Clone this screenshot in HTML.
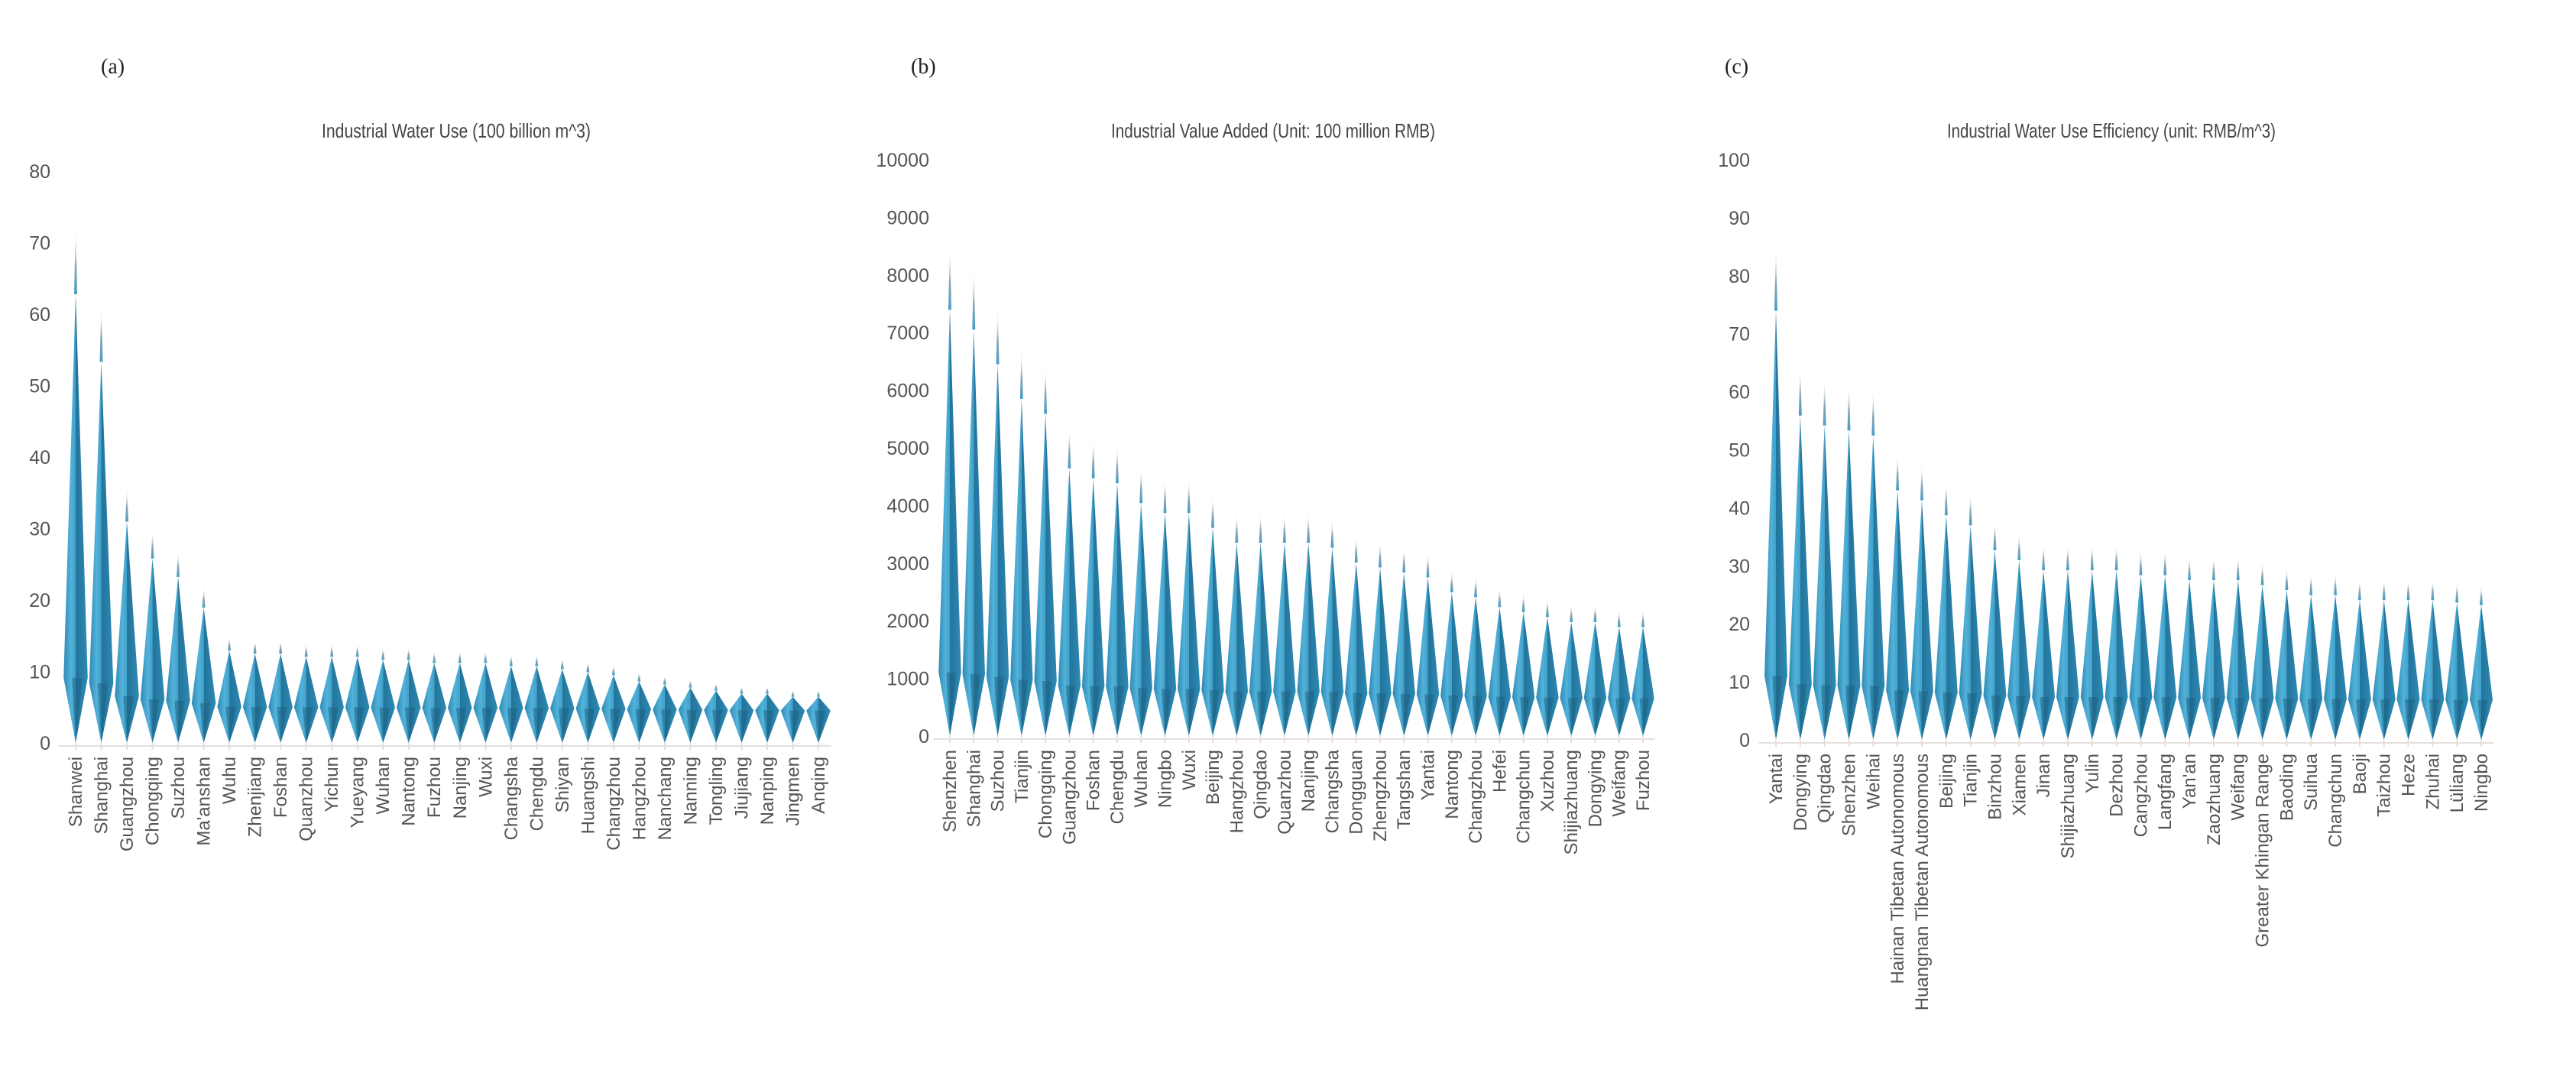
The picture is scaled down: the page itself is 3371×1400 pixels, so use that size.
<!DOCTYPE html>
<html><head><meta charset="utf-8"><style>
html,body{margin:0;padding:0;background:#fff;}
svg{display:block;font-family:"Liberation Sans",Arial,sans-serif;}
</style></head><body>
<svg id="chart" width="3371" height="1400" viewBox="0 0 3371 1400" xmlns="http://www.w3.org/2000/svg">
<defs>
<linearGradient id="gL" x1="0" y1="0" x2="1" y2="0"><stop offset="0" stop-color="#2f89b3"/><stop offset="0.6" stop-color="#52b2d9"/><stop offset="1" stop-color="#3ea0ca"/></linearGradient>
<linearGradient id="gR" x1="0" y1="0" x2="1" y2="0"><stop offset="0" stop-color="#22739a"/><stop offset="1" stop-color="#2e8ab4"/></linearGradient>
<linearGradient id="gN" x1="0" y1="1" x2="0" y2="0"><stop offset="0" stop-color="#4a9fc6"/><stop offset="0.4" stop-color="#8aa6b4"/><stop offset="1" stop-color="#ffffff" stop-opacity="0"/></linearGradient>
</defs>
</svg>
<script>
const catsA = ["Shanwei","Shanghai","Guangzhou","Chongqing","Suzhou","Ma'anshan","Wuhu","Zhenjiang","Foshan","Quanzhou","Yichun","Yueyang","Wuhan","Nantong","Fuzhou","Nanjing","Wuxi","Changsha","Chengdu","Shiyan","Huangshi","Changzhou","Hangzhou","Nanchang","Nanning","Tongling","Jiujiang","Nanping","Jingmen","Anqing"];
const valsA = [73,62,36,30,27,22,15,14.5,14.5,14,14,14,13.5,13.5,13,13,13,12.5,12.5,12,11.5,11,10,9.5,9,8.5,8,8,7.5,7.5];
const ticksA = [0,10,20,30,40,50,60,70,80];
const catsB = ["Shenzhen","Shanghai","Suzhou","Tianjin","Chongqing","Guangzhou","Foshan","Chengdu","Wuhan","Ningbo","Wuxi","Beijing","Hangzhou","Qingdao","Quanzhou","Nanjing","Changsha","Dongguan","Zhengzhou","Tangshan","Yantai","Nantong","Changzhou","Hefei","Changchun","Xuzhou","Shijiazhuang","Dongying","Weifang","Fuzhou"];
const valsB = [8600,8200,7500,6800,6500,5400,5200,5100,4700,4500,4500,4200,3900,3900,3900,3900,3800,3500,3400,3300,3200,2900,2800,2600,2500,2400,2300,2300,2200,2200];
const ticksB = [0,1000,2000,3000,4000,5000,6000,7000,8000,9000,10000];
const catsC = ["Yantai","Dongying","Qingdao","Shenzhen","Weihai","Hainan Tibetan Autonomous","Huangnan Tibetan Autonomous","Beijing","Tianjin","Binzhou","Xiamen","Jinan","Shijiazhuang","Yulin","Dezhou","Cangzhou","Langfang","Yan'an","Zaozhuang","Weifang","Greater Khingan Range","Baoding","Suihua","Changchun","Baoji","Taizhou","Heze","Zhuhai","Lüliang","Ningbo"];
const valsC = [86,65,63,62,61,50,48,45,43,38,36,34,34,34,34,33,33,32,32,32,31,30,29,29,28,28,28,28,27.5,27];
const ticksC = [0,10,20,30,40,50,60,70,80,90,100];

const svg = document.getElementById('chart');
const NS = 'http://www.w3.org/2000/svg';
function mk(tag, attrs, parent){const e=document.createElementNS(NS,tag);for(const k in attrs)e.setAttribute(k,attrs[k]);parent.appendChild(e);return e;}

function panel(o){
  const g = mk('g',{},svg);
  
  
  const max = o.ticks[o.ticks.length-1];
  const y = v => o.y0 - (v/max)*(o.y0-o.yTop);
  const n = o.cats.length;
  const step = (o.xLast-o.xFirst)/(n-1);
  const x = i => o.xFirst + i*step;
  const lab = mk('text',{x:o.labX,y:96,'font-size':28,fill:'#222','font-family':'Liberation Serif, serif'},g);
  lab.textContent = o.letter;
  
  
  const t = mk('text',{x:o.titleX,y:180,'font-size':26,fill:'#444','text-anchor':'middle',textLength:o.titleW,lengthAdjust:'spacingAndGlyphs'},g);
  t.textContent = o.title;
  
  
  o.ticks.forEach(tv=>{
    const tt = mk('text',{x:o.tickX,y:y(tv)+9,'font-size':25,fill:'#555','text-anchor':'end'},g);
    tt.textContent = tv;
    
    
  });
  const ax = mk('line',{x1:o.xFirst-step/2-6,x2:o.xLast+step/2,y1:o.y0+4,y2:o.y0+4,stroke:'#e6dede','stroke-width':2},g);
  
  
  const hw = step*0.47;
  o.vals.forEach((v,i)=>{
    const cx = x(i);
    const wy = y(0.05*max + 0.07*v);
    const by = y(0.86*v);
    const ty = y(v);
    const b = y(0);
    const s = mk('g',{},g);
    
    
    mk('polygon',{points:`${cx},${ty} ${cx+2},${by} ${cx-2},${by}`,fill:'url(#gN)'},s);
    mk('polygon',{points:`${cx},${b} ${cx-hw},${wy} ${cx},${by}`,fill:'url(#gL)'},s);
    mk('polygon',{points:`${cx},${b} ${cx+hw},${wy} ${cx},${by}`,fill:'url(#gR)'},s);
    mk('polygon',{points:`${cx},${b} ${cx-hw*0.3},${wy} ${cx+hw*0.55},${wy} `,fill:'#1c5f80',opacity:0.5},s);
    const tk = mk('line',{x1:cx,x2:cx,y1:o.y0,y2:o.y0+9,stroke:'#e6dede','stroke-width':2},g);
    
    
    const lt = mk('text',{transform:`translate(${cx+8},${o.y0+18}) rotate(-90)`,'font-size':24,fill:'#555','text-anchor':'end'},g);
    lt.textContent = o.cats[i];
    
    
  });
}
panel({name:'panel-a-water-use',letter:'(a)',labX:132,title:'Industrial Water Use (100 billion m^3)',titleX:597,titleW:352,ticks:ticksA,cats:catsA,vals:valsA,y0:972,yTop:224,tickX:66,xFirst:99,xLast:1071});
panel({name:'panel-b-value-added',letter:'(b)',labX:1192,title:'Industrial Value Added (Unit: 100 million RMB)',titleX:1666,titleW:424,ticks:ticksB,cats:catsB,vals:valsB,y0:963,yTop:209,tickX:1216,xFirst:1243,xLast:2150});
panel({name:'panel-c-water-efficiency',letter:'(c)',labX:2257,title:'Industrial Water Use Efficiency (unit: RMB/m^3)',titleX:2763,titleW:430,ticks:ticksC,cats:catsC,vals:valsC,y0:968,yTop:209,tickX:2290,xFirst:2324,xLast:3247});
</script>
</body></html>
